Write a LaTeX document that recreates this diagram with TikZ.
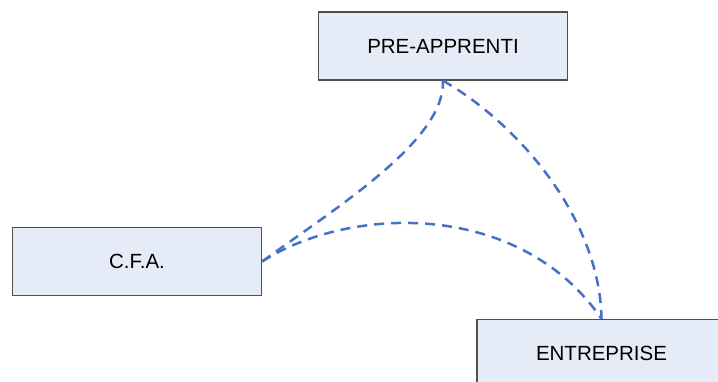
\documentclass[tikz,border=0pt]{standalone}
\usepackage{fontspec}
\setmainfont{Liberation Sans}
\definecolor{boxfill}{HTML}{E6ECF7}
\definecolor{boxline}{HTML}{4F4F4F}
\definecolor{linkblue}{HTML}{4472C4}
\begin{document}
\begin{tikzpicture}[x=1pt,y=-1pt,
  box/.style={draw=boxline,line width=1.3pt,fill=boxfill,minimum width=249pt,minimum height=68pt,inner sep=0pt,font=\fontsize{20.5pt}{24pt}\selectfont},
  link/.style={draw=linkblue,line width=2.5pt,dash pattern=on 10pt off 7pt}]
\useasboundingbox (0,0) rectangle (718,382);
\node[box] (pre) at (443,46) {PRE-APPRENTI};
\node[box] (cfa) at (137,261.5) {C.F.A.};
\node[box] (ent) at (601.5,353.5) {ENTREPRISE};
\draw[link] (cfa.east) .. controls (340,205) and (445,140) .. (pre.south);
\draw[link] (pre.south) .. controls (520,125) and (600,220) .. (ent.north);
\draw[link] (cfa.east) .. controls (350,205) and (520,200) .. (ent.north);
\end{tikzpicture}
\end{document}
